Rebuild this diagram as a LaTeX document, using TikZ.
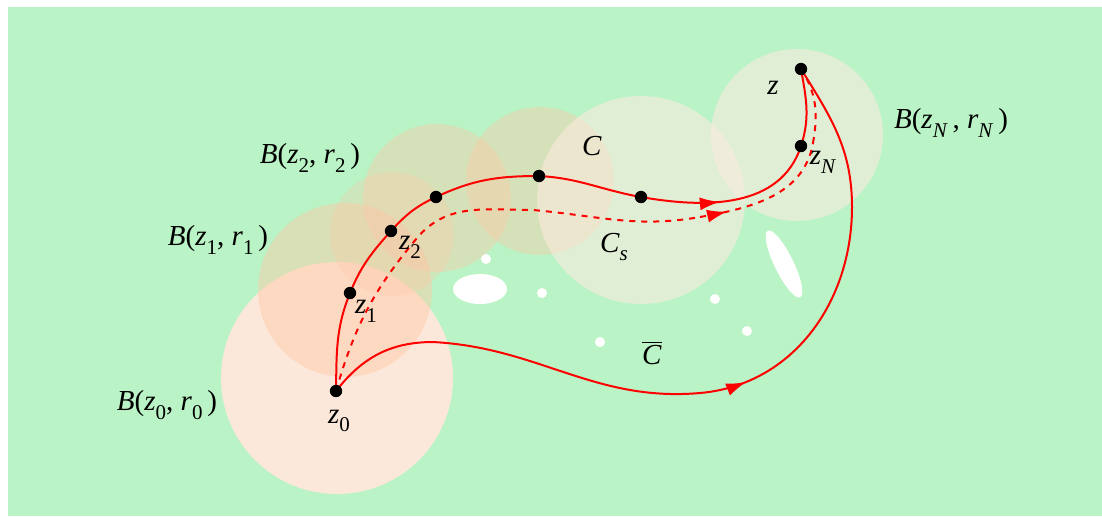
\documentclass[tikz,border=0pt]{standalone}
\usepackage{fontspec}
\setmainfont{Liberation Serif}
\usetikzlibrary{arrows.meta,decorations.markings}
\definecolor{bg}{RGB}{186,243,198}
\definecolor{pzero}{RGB}{252,232,218}
\definecolor{porange}{RGB}{255,200,165}
\definecolor{pbeige}{RGB}{255,235,225}
\newcommand{\sbs}[1]{\raisebox{-0.3em}{\fontsize{10.5}{12}\selectfont #1}}
\newcommand{\vs}[2]{\textit{#1}\sbs{#2}}
\newcommand{\vsi}[2]{\textit{#1}\sbs{\textit{#2}}}
\begin{document}
\begin{tikzpicture}[x=0.5pt,y=0.5pt,
  font=\fontsize{14.5}{17}\selectfont,
  curve/.style={red, line width=1pt},
  dot/.style={circle, fill=black, inner sep=0pt, minimum size=6.2pt},
  lbl/.style={inner sep=0pt},
  orangeball/.style={fill=porange, fill opacity=#1},
  beigeball/.style={fill=pbeige, fill opacity=0.55},
  hole/.style={fill=white},
  midarrow/.style={postaction={decorate}, decoration={markings,
     mark=at position #1 with {\arrow{Latex[length=10pt,width=6.5pt]}}}}]
\useasboundingbox (0,0) rectangle (1102,-516);
\fill[bg] (8,-7) rectangle (1102,-516);
% balls
\fill[pzero] (337,-378) circle[radius=116];
\fill[orangeball=0.45] (345,-290) circle[radius=87];
\fill[orangeball=0.3] (392,-234) circle[radius=62];
\fill[orangeball=0.4] (437,-198) circle[radius=74];
\fill[orangeball=0.4] (540,-181) circle[radius=74];
\fill[beigeball] (641,-200) circle[radius=104];
\fill[beigeball] (797,-135) circle[radius=86];
% holes
\fill[hole] (480,-289) ellipse[x radius=27, y radius=15];
\fill[hole, rotate around={-64:(784,-264)}] (784,-264) ellipse[x radius=37, y radius=9.5];
\foreach \p in {(486,-259),(542,-293),(715,-299),(747,-331),(600,-342)}
  \fill[hole] \p circle[radius=5];
% points
\coordinate (z0) at (336,-391);
\coordinate (z1) at (350,-293);
\coordinate (z2) at (391,-231);
\coordinate (p3) at (436,-197);
\coordinate (p4) at (539,-176);
\coordinate (p5) at (641,-197);
\coordinate (zN) at (801,-146);
\coordinate (z) at (801,-69);
\coordinate (d1) at (417,-238);
\coordinate (d2) at (533,-210);
\coordinate (d3) at (700,-217);
\coordinate (d4) at (813,-143);
\coordinate (b1) at (433,-342);
\coordinate (b3) at (700,-393);
\coordinate (b5) at (852,-207);
% curve C
\draw[curve] (z0) to[out=89,in=-112] (z1) to[out=68,in=-132] (z2)
  to[out=48,in=-155] (p3) to[out=25,in=180] (p4)
  to[out=-3,in=170] (p5);
\draw[curve, midarrow=0.43] (p5) to[out=-10,in=-108] (zN);
\draw[curve] (zN) to[out=72,in=-80] (z);
% curve C_s
\draw[curve, dashed] (z0) to[out=74,in=-130] (d1) to[out=50,in=180] (d2)
  to[out=-5,in=190] (d3);
\draw[curve, dashed, midarrow=0.19] (d3) to[out=10,in=-100] (d4);
\draw[curve, dashed] (d4) to[out=80,in=-57] (z);
% curve bar C
\draw[curve] (z0) to[out=52,in=180] (b1) to[out=-3,in=185] (b3);
\draw[curve, midarrow=0.18] (b3) to[out=5,in=-90] (b5);
\draw[curve] (b5) to[out=90,in=-58] (z);
% dots
\foreach \n in {z0,z1,z2,p3,p4,p5,zN,z}
  \node[dot] (\n dot) at (\n) {};
% labels
\node[lbl] (LB2) at (310,-158) {\textit{B}(\vs{z}{2}, \vs{r}{2}\,)};
\node[lbl] (LB1) at (218,-240) {\textit{B}(\vs{z}{1}, \vs{r}{1}\,)};
\node[lbl] (LB0) at (167,-405) {\textit{B}(\vs{z}{0}, \vs{r}{0}\,)};
\node[lbl] (LBN) at (951,-123) {\textit{B}(\vsi{z}{N}\,, \vsi{r}{N}\,)};
\node[lbl] (LC) at (592,-146) {\textit{C}};
\node[lbl] (LCs) at (614,-247) {\vsi{C}{s}};
\node[lbl] (LCb) at (652,-353) {$\overline{\mbox{\textit{C}}}$};
\node[lbl] (Lz) at (773,-88) {\textit{z}};
\node[lbl] (LzN) at (823,-162) {\vsi{z}{N}};
\node[lbl] (Lz2) at (410,-247) {\vs{z}{2}};
\node[lbl] (Lz1) at (366,-311) {\vs{z}{1}};
\node[lbl] (Lz0) at (339,-421) {\vs{z}{0}};
\end{tikzpicture}
\end{document}
